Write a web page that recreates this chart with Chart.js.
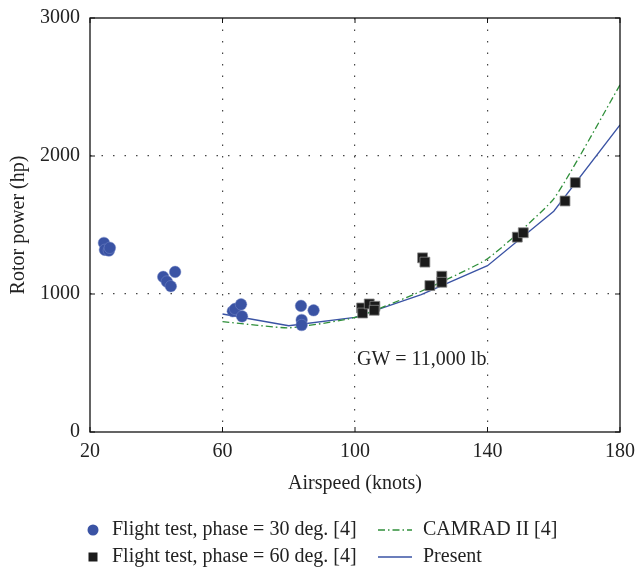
<!DOCTYPE html>
<html>
<head>
<meta charset="utf-8">
<script src="https://cdn.jsdelivr.net/npm/chart.js@4.4.1/dist/chart.umd.min.js"></script>
<style>
  html, body { margin: 0; padding: 0; background: #fff; }
  #wrap { width: 635px; height: 571px; }
</style>
</head>
<body>
<div id="wrap"><canvas id="powerChart" width="635" height="571"></canvas></div>
<script>
// ---- data ----
const test30Speed = [24.2, 24.5, 25.7, 26.0, 42.1, 43.2, 44.4, 45.7, 63.1, 63.8, 65.6, 65.9, 83.7, 87.5, 83.9, 83.9];
const test30Power = [1370, 1320, 1315, 1335, 1124, 1090, 1056, 1160, 875, 892, 925, 838, 914, 882, 812, 775];

const test60Speed = [102.0, 102.3, 104.3, 106.0, 105.8, 120.4, 121.1, 122.6, 126.2, 126.2, 149.0, 150.8, 163.4, 166.5];
const test60Power = [899, 862, 928, 911, 882, 1262, 1231, 1061, 1129, 1085, 1412, 1444, 1674, 1807];

const camradSpeed = [60, 80, 100, 120, 140, 160, 180];
const camradPower = [800, 755, 830, 1020, 1255, 1690, 2515];

const presentSpeed = [60, 80, 100, 120, 140, 160, 180];
const presentPower = [855, 770, 830, 995, 1205, 1600, 2225];

const xTicks = [20, 60, 100, 140, 180];
const yTicks = [0, 1000, 2000, 3000];

const gwLabel = 'GW = 11,000 lb';
const gwAt = { x: 100.6, y: 520 };

const FONT = '"Liberation Serif", "DejaVu Serif", serif';
const FS = 20;
const BLUE = '#3a53a4';
const GREEN = '#2f8f3a';

const toPoints = (xs, ys) => xs.map((x, i) => ({ x: x, y: ys[i] }));

// frame, GW note and a 2-column legend drawn on the canvas
const extrasPlugin = {
  id: 'extras',
  afterDraw(chart) {
    const ctx = chart.ctx;
    const area = chart.chartArea;
    const xs = chart.scales.x, ys = chart.scales.y;
    ctx.save();
    ctx.strokeStyle = '#111';
    ctx.lineWidth = 1.3;
    ctx.strokeRect(area.left, area.top, area.right - area.left, area.bottom - area.top);

    // small inward ticks on the frame
    ctx.lineWidth = 1;
    xTicks.forEach(v => {
      const px = xs.getPixelForValue(v);
      ctx.beginPath(); ctx.moveTo(px, area.bottom); ctx.lineTo(px, area.bottom - 5);
      ctx.moveTo(px, area.top); ctx.lineTo(px, area.top + 5); ctx.stroke();
    });
    yTicks.forEach(v => {
      const py = ys.getPixelForValue(v);
      ctx.beginPath(); ctx.moveTo(area.left, py); ctx.lineTo(area.left + 5, py);
      ctx.moveTo(area.right, py); ctx.lineTo(area.right - 5, py); ctx.stroke();
    });

    ctx.fillStyle = '#222';
    ctx.font = FS + 'px ' + FONT;
    ctx.textAlign = 'left';
    ctx.textBaseline = 'middle';
    ctx.fillText(gwLabel, xs.getPixelForValue(gwAt.x), ys.getPixelForValue(gwAt.y));

    // legend
    const cols = [{ mark: 93, text: 112 }, { mark: 395, text: 423 }];
    const rows = [530, 557];
    chart.data.datasets.forEach((ds, i) => {
      const c = cols[Math.floor(i / 2)], y = rows[i % 2];
      if (ds.showLine === false) {
        ctx.fillStyle = ds.backgroundColor;
        ctx.beginPath();
        if (ds.pointStyle === 'rect') ctx.rect(c.mark - 4.5, y - 4.5, 9, 9);
        else ctx.arc(c.mark, y, 5.5, 0, Math.PI * 2);
        ctx.fill();
      } else {
        ctx.strokeStyle = ds.borderColor;
        ctx.lineWidth = ds.borderWidth;
        ctx.setLineDash(ds.borderDash || []);
        ctx.beginPath(); ctx.moveTo(c.mark - 17, y); ctx.lineTo(c.mark + 17, y); ctx.stroke();
        ctx.setLineDash([]);
      }
      ctx.fillStyle = '#222';
      ctx.fillText(ds.label, c.text, y);
    });
    ctx.restore();
  }
};

const gridColor = (keep) => (c) => keep.includes(c.tick.value) ? '#444' : 'rgba(0,0,0,0)';
const plainNum = (v) => String(v);

new Chart(document.getElementById('powerChart'), {
  type: 'scatter',
  data: {
    datasets: [
      {
        label: 'Flight test, phase = 30 deg. [4]',
        data: toPoints(test30Speed, test30Power),
        showLine: false,
        pointStyle: 'circle',
        pointRadius: 5.8,
        backgroundColor: BLUE,
        borderColor: 'rgba(120,140,200,0.6)',
        borderWidth: 0.8
      },
      {
        label: 'Flight test, phase = 60 deg. [4]',
        data: toPoints(test60Speed, test60Power),
        showLine: false,
        pointStyle: 'rect',
        pointRadius: 7,
        backgroundColor: '#1b1b1b',
        borderColor: '#888',
        borderWidth: 0.8
      },
      {
        label: 'CAMRAD II [4]',
        data: toPoints(camradSpeed, camradPower),
        showLine: true,
        borderColor: GREEN,
        borderWidth: 1.3,
        borderDash: [7, 3, 1.5, 3],
        pointRadius: 0,
        tension: 0.15
      },
      {
        label: 'Present',
        data: toPoints(presentSpeed, presentPower),
        showLine: true,
        borderColor: BLUE,
        borderWidth: 1.3,
        pointRadius: 0,
        tension: 0
      }
    ]
  },
  options: {
    responsive: false,
    animation: false,
    layout: { padding: { left: 0, right: 15, top: 18, bottom: 89 } },
    plugins: { legend: { display: false }, tooltip: { enabled: false } },
    scales: {
      x: {
        min: 20, max: 180,
        afterBuildTicks: (s) => { s.ticks = xTicks.map(v => ({ value: v })); },
        afterFit: (s) => { s.height = 50; s.paddingLeft = 0; s.paddingRight = 0; },
        grid: { color: gridColor([60, 100, 140]), lineWidth: 1.2, drawTicks: false },
        border: { display: false, dash: [1.5, 10] },
        ticks: { padding: 8, color: '#222', font: { family: FONT, size: FS }, maxRotation: 0, callback: plainNum },
        title: { display: true, text: 'Airspeed (knots)', color: '#222', font: { family: FONT, size: FS }, padding: { top: 4, bottom: -14 } }
      },
      y: {
        min: 0, max: 3000,
        afterBuildTicks: (s) => { s.ticks = yTicks.map(v => ({ value: v })); },
        afterFit: (s) => { s.width = 90; s.paddingTop = 0; s.paddingBottom = 0; },
        grid: { color: gridColor([1000, 2000]), lineWidth: 1.2, drawTicks: false },
        border: { display: false, dash: [1.5, 10] },
        ticks: { padding: 10, color: '#222', font: { family: FONT, size: FS }, callback: plainNum },
        title: { display: true, text: 'Rotor power (hp)', color: '#222', font: { family: FONT, size: FS }, padding: { top: 7, bottom: 0 } }
      }
    }
  },
  plugins: [extrasPlugin]
});
</script>
</body>
</html>
